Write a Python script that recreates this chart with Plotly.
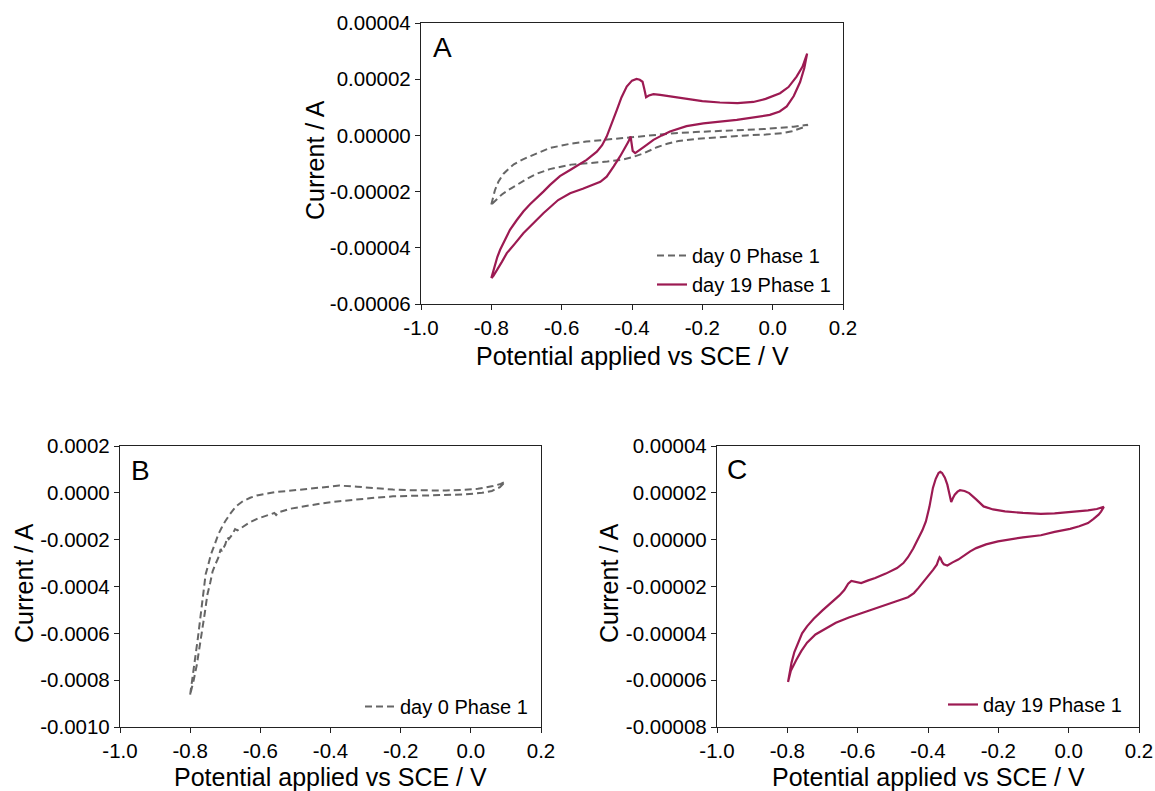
import plotly.graph_objects as go

# ---- Panel A: day 0 (dashed) and day 19 (solid), Phase 1 ----
a_day0_potential = [
    -0.800, -0.795, -0.790, -0.780, -0.766, -0.750, -0.736, -0.710, -0.685, -0.660,
    -0.634, -0.600, -0.573, -0.530, -0.481, -0.430, -0.380, -0.330, -0.278, -0.220,
    -0.176, -0.125, -0.075, -0.020, 0.027, 0.060, 0.085, 0.100,
    0.090, 0.078, 0.055, 0.027, -0.020, -0.075, -0.125, -0.176, -0.220, -0.268,
    -0.300, -0.329, -0.350, -0.369, -0.400, -0.430, -0.470, -0.512, -0.573, -0.634,
    -0.670, -0.695, -0.720, -0.746, -0.770, -0.786, -0.800,
]
a_day0_current_1e5 = [
    -2.46, -2.20, -1.96, -1.65, -1.37, -1.18, -1.03, -0.85, -0.71, -0.58,
    -0.45, -0.36, -0.29, -0.22, -0.16, -0.10, -0.04, 0.02, 0.08, 0.12,
    0.15, 0.18, 0.20, 0.23, 0.27, 0.31, 0.35, 0.38,
    0.30, 0.24, 0.15, 0.08, 0.03, 0.00, -0.04, -0.08, -0.13, -0.20,
    -0.30, -0.42, -0.54, -0.65, -0.78, -0.87, -0.93, -0.97, -1.04, -1.20,
    -1.36, -1.52, -1.70, -1.90, -2.10, -2.29, -2.46,
]

a_day19_potential = [
    -0.800, -0.795, -0.790, -0.783, -0.775, -0.760, -0.747, -0.728, -0.709, -0.690,
    -0.671, -0.652, -0.633, -0.605, -0.576, -0.550, -0.529, -0.500, -0.485, -0.472,
    -0.458, -0.443, -0.430, -0.415, -0.400, -0.387, -0.378, -0.370, -0.365, -0.360,
    -0.352, -0.339, -0.320, -0.290, -0.244, -0.200, -0.150, -0.100, -0.055, -0.020,
    0.021, 0.045, 0.068, 0.085, 0.098,
    0.090, 0.078, 0.060, 0.040, 0.020, -0.008, -0.055, -0.102, -0.150, -0.197,
    -0.245, -0.292, -0.315, -0.339, -0.365, -0.391, -0.398, -0.402, -0.404, -0.410,
    -0.420, -0.434, -0.452, -0.472, -0.490, -0.510, -0.540, -0.576, -0.610, -0.652,
    -0.680, -0.709, -0.733, -0.756, -0.770, -0.783, -0.794, -0.800,
]
a_day19_current_1e5 = [
    -5.08, -4.85, -4.60, -4.33, -4.07, -3.66, -3.36, -3.02, -2.71, -2.45,
    -2.24, -2.00, -1.76, -1.45, -1.23, -1.03, -0.87, -0.58, -0.35, -0.04,
    0.45, 0.91, 1.35, 1.74, 1.95, 2.01, 1.98, 1.91, 1.65, 1.36,
    1.42, 1.47, 1.44, 1.38, 1.29, 1.22, 1.17, 1.15, 1.19, 1.30,
    1.50, 1.72, 2.09, 2.45, 2.91,
    2.40, 1.90, 1.40, 1.03, 0.85, 0.73, 0.63, 0.55, 0.49, 0.43,
    0.33, 0.14, 0.00, -0.16, -0.40, -0.63, -0.55, -0.25, -0.04, -0.22,
    -0.45, -0.75, -1.10, -1.47, -1.65, -1.76, -1.90, -2.06, -2.30, -2.77,
    -3.12, -3.48, -3.85, -4.19, -4.50, -4.78, -5.00, -5.08,
]

# ---- Panel B: day 0, Phase 1 (wide current range) ----
b_day0_potential = [
    -0.800, -0.793, -0.786, -0.778, -0.771, -0.763, -0.756, -0.748, -0.741, -0.730,
    -0.720, -0.710, -0.700, -0.685, -0.669, -0.650, -0.629, -0.610, -0.588, -0.560,
    -0.527, -0.480, -0.425, -0.375, -0.324, -0.270, -0.222, -0.170, -0.120, -0.070,
    -0.019, 0.020, 0.063, 0.085, 0.098,
    0.090, 0.083, 0.060, 0.032, -0.019, -0.100, -0.171, -0.222, -0.273, -0.325,
    -0.375, -0.425, -0.476, -0.515, -0.547, -0.555, -0.560, -0.580, -0.608, -0.630,
    -0.649, -0.665, -0.672, -0.680, -0.690, -0.694, -0.700, -0.710, -0.713, -0.720,
    -0.728, -0.736, -0.743, -0.751, -0.758, -0.766, -0.773, -0.781, -0.790, -0.800,
]
b_day0_current_1e4 = [
    -8.62, -7.90, -7.05, -6.20, -5.34, -4.40, -3.49, -3.05, -2.64, -2.20,
    -1.78, -1.48, -1.21, -0.88, -0.57, -0.36, -0.21, -0.11, -0.04, 0.03,
    0.07, 0.14, 0.24, 0.31, 0.26, 0.18, 0.14, 0.11, 0.10, 0.10,
    0.13, 0.17, 0.29, 0.38, 0.47,
    0.35, 0.24, 0.08, 0.00, -0.07, -0.09, -0.11, -0.15, -0.21, -0.28,
    -0.36, -0.45, -0.57, -0.68, -0.83, -0.95, -0.86, -0.97, -1.10, -1.26,
    -1.43, -1.60, -1.55, -1.78, -1.98, -1.90, -2.21, -2.50, -2.40, -2.78,
    -3.05, -3.35, -3.85, -4.35, -5.10, -5.91, -6.60, -7.34, -8.00, -8.62,
]

# ---- Panel C: day 19, Phase 1 ----
c_day19_potential = [
    -0.798, -0.793, -0.788, -0.780, -0.770, -0.758, -0.744, -0.725, -0.700, -0.675,
    -0.652, -0.638, -0.627, -0.618, -0.611, -0.600, -0.590, -0.570, -0.550, -0.520,
    -0.488, -0.470, -0.457, -0.442, -0.427, -0.416, -0.406, -0.396, -0.386, -0.378,
    -0.370, -0.365, -0.360, -0.352, -0.345, -0.339, -0.334, -0.329, -0.324, -0.316,
    -0.309, -0.296, -0.283, -0.263, -0.242, -0.215, -0.181, -0.130, -0.079, -0.040,
    0.004, 0.055, 0.080, 0.096, 0.100,
    0.092, 0.085, 0.070, 0.055, 0.030, 0.004, -0.040, -0.079, -0.130, -0.170,
    -0.201, -0.235, -0.263, -0.280, -0.294, -0.314, -0.330, -0.345, -0.355, -0.360,
    -0.364, -0.367, -0.371, -0.375, -0.385, -0.396, -0.410, -0.427, -0.440, -0.457,
    -0.490, -0.519, -0.555, -0.590, -0.625, -0.662, -0.693, -0.720, -0.744, -0.760,
    -0.775, -0.790, -0.798,
]
c_day19_current_1e5 = [
    -6.08, -5.65, -5.25, -4.80, -4.40, -4.00, -3.70, -3.38, -3.02, -2.70,
    -2.38, -2.15, -1.88, -1.76, -1.78, -1.84, -1.85, -1.74, -1.64, -1.45,
    -1.21, -1.00, -0.75, -0.38, 0.07, 0.40, 0.78, 1.40, 2.21, 2.60,
    2.85, 2.90, 2.85, 2.65, 2.35, 1.95, 1.61, 1.78, 1.92, 2.05,
    2.11, 2.08, 1.99, 1.72, 1.42, 1.29, 1.21, 1.14, 1.10, 1.12,
    1.17, 1.25, 1.31, 1.38, 1.40,
    1.20, 1.07, 0.88, 0.71, 0.57, 0.46, 0.33, 0.19, 0.10, 0.02,
    -0.07, -0.20, -0.36, -0.50, -0.64, -0.85, -0.97, -1.10, -1.05, -0.95,
    -0.80, -0.75, -0.90, -1.07, -1.28, -1.49, -1.75, -2.06, -2.28, -2.46,
    -2.63, -2.78, -2.95, -3.13, -3.32, -3.55, -3.80, -4.05, -4.40, -4.75,
    -5.15, -5.60, -6.08,
]

# ---- Axis ticks ----
x_tickvals = [-1.0, -0.8, -0.6, -0.4, -0.2, 0.0, 0.2]
x_ticktext = ["-1.0", "-0.8", "-0.6", "-0.4", "-0.2", "0.0", "0.2"]
a_y_tickvals = [-0.00006, -0.00004, -0.00002, 0.0, 0.00002, 0.00004]
a_y_ticktext = ["-0.00006", "-0.00004", "-0.00002", "0.00000", "0.00002", "0.00004"]
b_y_tickvals = [-0.0010, -0.0008, -0.0006, -0.0004, -0.0002, 0.0, 0.0002]
b_y_ticktext = ["-0.0010", "-0.0008", "-0.0006", "-0.0004", "-0.0002", "0.0000", "0.0002"]
c_y_tickvals = [-0.00008, -0.00006, -0.00004, -0.00002, 0.0, 0.00002, 0.00004]
c_y_ticktext = ["-0.00008", "-0.00006", "-0.00004", "-0.00002", "0.00000", "0.00002", "0.00004"]

GREY = "#666666"
WINE = "#9c1a52"
FONT = "Liberation Sans, Arial, Helvetica, sans-serif"
W, H = 1155, 791


def px_x(p):
    return p / W


def px_y(p):
    return 1 - p / H


def scaled(values, factor):
    return [v * factor for v in values]


fig = go.Figure()

fig.add_trace(go.Scatter(
    x=a_day0_potential, y=scaled(a_day0_current_1e5, 1e-5), mode="lines",
    name="day 0 Phase 1", line=dict(color=GREY, width=2, dash="7px,4px"),
    xaxis="x", yaxis="y", legend="legend",
))
fig.add_trace(go.Scatter(
    x=a_day19_potential, y=scaled(a_day19_current_1e5, 1e-5), mode="lines",
    name="day 19 Phase 1", line=dict(color=WINE, width=2.2),
    xaxis="x", yaxis="y", legend="legend",
))
fig.add_trace(go.Scatter(
    x=b_day0_potential, y=scaled(b_day0_current_1e4, 1e-4), mode="lines",
    name="day 0 Phase 1", line=dict(color=GREY, width=2, dash="7px,4px"),
    xaxis="x2", yaxis="y2", legend="legend2",
))
fig.add_trace(go.Scatter(
    x=c_day19_potential, y=scaled(c_day19_current_1e5, 1e-5), mode="lines",
    name="day 19 Phase 1", line=dict(color=WINE, width=2.2),
    xaxis="x3", yaxis="y3", legend="legend3",
))

axis_style = dict(
    showline=True, mirror=True, linecolor="#222222", linewidth=1.3,
    ticks="outside", ticklen=5, tickwidth=1.3, tickcolor="#222222",
    showgrid=False, zeroline=False, automargin=False,
    tickfont=dict(family=FONT, size=20.5, color="black"),
)

panels = {
    "": dict(x=(421, 843), y=(23, 304), yt=(a_y_tickvals, a_y_ticktext), yr=(-0.00006, 0.00004)),
    "2": dict(x=(120, 541), y=(446, 727), yt=(b_y_tickvals, b_y_ticktext), yr=(-0.0010, 0.0002)),
    "3": dict(x=(717, 1139), y=(446, 727), yt=(c_y_tickvals, c_y_ticktext), yr=(-0.00008, 0.00004)),
}

layout = dict(
    template="none",
    width=W, height=H, margin=dict(l=0, r=0, t=0, b=0, pad=0, autoexpand=False),
    paper_bgcolor="white", plot_bgcolor="white",
    font=dict(family=FONT, color="black"),
)
for suffix, p in panels.items():
    layout["xaxis" + suffix] = dict(
        axis_style, domain=[px_x(p["x"][0]), px_x(p["x"][1])], range=[-1.0, 0.2],
        tickvals=x_tickvals, ticktext=x_ticktext,
        anchor="y" + suffix,
    )
    layout["yaxis" + suffix] = dict(
        axis_style, domain=[px_y(p["y"][1]), px_y(p["y"][0])], range=list(p["yr"]),
        tickvals=p["yt"][0], ticktext=p["yt"][1],
        anchor="x" + suffix,
    )

legend_style = dict(
    bgcolor="rgba(0,0,0,0)", borderwidth=0, xanchor="left", yanchor="top",
    font=dict(family=FONT, size=20, color="black"), itemwidth=30,
    tracegroupgap=0,
)
layout["legend"] = dict(legend_style, x=px_x(652), y=px_y(236))
layout["legend2"] = dict(legend_style, x=px_x(360), y=px_y(687))
layout["legend3"] = dict(legend_style, x=px_x(943), y=px_y(685))

fig.update_layout(**layout)

# Axis titles and panel letters
title_font = dict(family=FONT, size=25, color="black")
annotations = []
for cx, cy in [(632, 356), (330, 777), (928, 777)]:
    annotations.append(dict(
        text="Potential applied vs SCE / V", x=px_x(cx), y=px_y(cy),
        xref="paper", yref="paper", showarrow=False, font=title_font,
        xanchor="center", yanchor="middle",
    ))
for cx, cy in [(315, 160), (24, 583), (609, 583)]:
    annotations.append(dict(
        text="Current / A", x=px_x(cx), y=px_y(cy), textangle=-90,
        xref="paper", yref="paper", showarrow=False, font=title_font,
        xanchor="center", yanchor="middle",
    ))
for letter, cx, cy in [("A", 442, 47), ("B", 140, 470), ("C", 737, 469)]:
    annotations.append(dict(
        text=letter, x=px_x(cx), y=px_y(cy), xref="paper", yref="paper",
        showarrow=False, font=dict(family=FONT, size=28, color="black"),
        xanchor="center", yanchor="middle",
    ))
fig.update_layout(annotations=annotations)

fig.write_html("out.html")
